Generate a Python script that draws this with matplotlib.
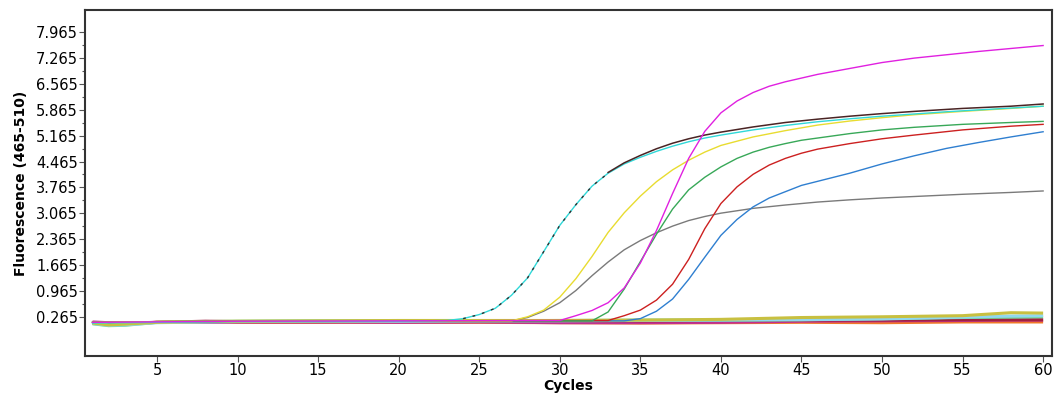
import matplotlib
matplotlib.use("Agg")
import matplotlib.pyplot as plt
from matplotlib.ticker import FixedLocator

plt.rcParams['font.family'] = ['DejaVu Sans']

# rising curves: (cycles, fluorescence)
cyan_c = [1, 5, 10, 15, 20, 23, 24, 25, 26, 27, 28, 29, 30, 31, 32, 33, 34, 35, 36, 37, 38, 39, 40,
          42, 44, 46, 48, 50, 52, 54, 56, 58, 60]
cyan_v = [0.10, 0.12, 0.14, 0.14, 0.15, 0.17, 0.22, 0.33, 0.50, 0.85, 1.32, 2.03, 2.74, 3.30, 3.80,
          4.15, 4.40, 4.58, 4.74, 4.88, 5.00, 5.10, 5.18, 5.32, 5.44, 5.54, 5.62, 5.69, 5.75, 5.81,
          5.86, 5.91, 5.96]

# dark trace: stippled while rising with cyan, then solid on the plateau
dark_rise_c = [24, 25, 26, 27, 28, 29, 30, 31, 32, 33]
dark_rise_v = [0.22, 0.33, 0.50, 0.85, 1.32, 2.03, 2.74, 3.30, 3.80, 4.15]
dark_c = [33, 34, 35, 36, 37, 38, 39, 40, 42, 44, 46, 48, 50, 52, 55, 58, 60]
dark_v = [4.17, 4.43, 4.63, 4.81, 4.96, 5.08, 5.18, 5.26, 5.40, 5.52, 5.61, 5.69, 5.76, 5.82, 5.90,
          5.96, 6.02]

yellow_c = [1, 10, 20, 27, 28, 29, 30, 31, 32, 33, 34, 35, 36, 37, 38, 39, 40, 42, 44, 46, 48, 50,
            52, 55, 58, 60]
yellow_v = [0.12, 0.15, 0.16, 0.16, 0.27, 0.45, 0.80, 1.30, 1.90, 2.55, 3.08, 3.53, 3.92, 4.24, 4.50,
            4.72, 4.90, 5.13, 5.30, 5.45, 5.56, 5.65, 5.73, 5.82, 5.90, 5.96]

gray_c = [1, 10, 20, 27, 28, 29, 30, 31, 32, 33, 34, 35, 36, 37, 38, 39, 40, 42, 44, 46, 48, 50,
          52, 55, 58, 60]
gray_v = [0.12, 0.15, 0.16, 0.16, 0.25, 0.42, 0.65, 0.98, 1.38, 1.75, 2.08, 2.33, 2.54, 2.72, 2.87,
          2.98, 3.07, 3.20, 3.29, 3.37, 3.43, 3.48, 3.52, 3.58, 3.63, 3.67]

magenta_c = [1, 10, 20, 30, 31, 32, 33, 34, 35, 36, 37, 38, 39, 40, 41, 42, 43, 44, 45, 46, 48, 50,
             52, 54, 56, 58, 60]
magenta_v = [0.12, 0.15, 0.16, 0.17, 0.30, 0.44, 0.65, 1.05, 1.72, 2.60, 3.60, 4.55, 5.28, 5.78,
             6.10, 6.33, 6.50, 6.62, 6.72, 6.82, 6.98, 7.14, 7.26, 7.35, 7.44, 7.52, 7.60]

green_c = [1, 10, 20, 32, 33, 34, 35, 36, 37, 38, 39, 40, 41, 42, 43, 44, 45, 46, 48, 50, 52, 55,
           58, 60]
green_v = [0.12, 0.15, 0.16, 0.16, 0.40, 1.02, 1.76, 2.50, 3.18, 3.70, 4.04, 4.32, 4.55, 4.72, 4.85,
           4.95, 5.04, 5.10, 5.22, 5.32, 5.39, 5.47, 5.52, 5.55]

red_c = [1, 10, 20, 33, 34, 35, 36, 37, 38, 39, 40, 41, 42, 43, 44, 45, 46, 48, 50, 52, 55, 58, 60]
red_v = [0.12, 0.15, 0.16, 0.17, 0.30, 0.45, 0.72, 1.15, 1.82, 2.65, 3.33, 3.78, 4.12, 4.37, 4.55,
         4.69, 4.80, 4.95, 5.08, 5.18, 5.32, 5.42, 5.47]

blue_c = [1, 10, 20, 34, 35, 36, 37, 38, 39, 40, 41, 42, 43, 44, 45, 46, 48, 50, 52, 54, 56, 58, 60]
blue_v = [0.12, 0.15, 0.16, 0.16, 0.22, 0.42, 0.75, 1.28, 1.88, 2.47, 2.90, 3.24, 3.48, 3.65, 3.82,
          3.93, 4.15, 4.40, 4.62, 4.82, 4.98, 5.13, 5.27]

# flat (negative) samples
flat_c = [1, 2, 3, 5, 8, 10, 15, 20, 25, 30, 35, 40, 45, 50, 55, 58, 60]
orange_v = [0.09, 0.07, 0.08, 0.12, 0.13, 0.12, 0.12, 0.12, 0.12, 0.11, 0.10, 0.11, 0.12, 0.11, 0.13, 0.13, 0.13]
maroon_v = [0.10, 0.09, 0.09, 0.12, 0.15, 0.14, 0.14, 0.15, 0.15, 0.16, 0.16, 0.17, 0.18, 0.18, 0.19, 0.19, 0.19]
olive_v = [0.10, 0.05, 0.07, 0.12, 0.14, 0.15, 0.16, 0.17, 0.17, 0.17, 0.18, 0.20, 0.25, 0.27, 0.30, 0.38, 0.37]
ltgreen_v = [0.08, 0.03, 0.04, 0.12, 0.14, 0.15, 0.16, 0.16, 0.16, 0.17, 0.18, 0.18, 0.19, 0.22, 0.25, 0.26, 0.27]
ltblue_v = [0.09, 0.04, 0.05, 0.11, 0.13, 0.14, 0.15, 0.15, 0.16, 0.16, 0.17, 0.18, 0.19, 0.21, 0.26, 0.29, 0.30]
purple_v = [0.13, 0.11, 0.10, 0.12, 0.12, 0.13, 0.13, 0.12, 0.13, 0.11, 0.11, 0.12, 0.15, 0.16, 0.17, 0.18, 0.18]

x_ticks = [5, 10, 15, 20, 25, 30, 35, 40, 45, 50, 55, 60]
y_ticks = [0.265, 0.965, 1.665, 2.365, 3.065, 3.765, 4.465, 5.165, 5.865, 6.565, 7.265, 7.965]

fig = plt.figure(figsize=(10.57, 4.03), dpi=100)
ax = fig.add_axes([0.0804, 0.1166, 0.915, 0.8586])

for v, col in [(orange_v, '#f07828'), (purple_v, '#c03090'), (maroon_v, '#a02040'),
               (ltgreen_v, '#70d890'), (ltblue_v, '#90d8f0'), (olive_v, '#c8c040')]:
    ax.plot(flat_c, v, color=col, lw=2.2, solid_capstyle='butt')

ax.plot(gray_c, gray_v, color='#7a7a7a', lw=1.0)
ax.plot(blue_c, blue_v, color='#2f7fd0', lw=1.0)
ax.plot(red_c, red_v, color='#cc2020', lw=1.0)
ax.plot(green_c, green_v, color='#38a858', lw=1.0)
ax.plot(yellow_c, yellow_v, color='#e8dc30', lw=1.0)
ax.plot(cyan_c, cyan_v, color='#30d8d8', lw=1.0)
ax.plot(dark_rise_c, dark_rise_v, color='#303030', lw=1.0, ls=(0, (2, 5)))
ax.plot(dark_c, dark_v, color='#4a2424', lw=1.1)
ax.plot(magenta_c, magenta_v, color='#e020e0', lw=1.0)

ax.set_xlim(0.53, 60.56)
ax.set_ylim(-0.79, 8.56)
ax.xaxis.set_major_locator(FixedLocator(x_ticks))
ax.yaxis.set_major_locator(FixedLocator(y_ticks))
ax.yaxis.set_minor_locator(FixedLocator([t + 0.35 for t in y_ticks[:-1]]))
ax.set_yticklabels([f'{t:.3f}' for t in y_ticks])
ax.tick_params(axis='both', labelsize=10.5, length=4, width=0.8, color='#555555', pad=1)
ax.tick_params(axis='y', which='minor', length=2, width=0.8, color='#555555')

for s in ax.spines.values():
    s.set_color('#333333')
    s.set_linewidth(1.5)

ax.set_xlabel('Cycles', fontsize=10, fontweight='bold', labelpad=1)
ax.set_ylabel('Fluorescence (465-510)', fontsize=10, fontweight='bold', labelpad=6)

fig.savefig('out.png', dpi=100)
